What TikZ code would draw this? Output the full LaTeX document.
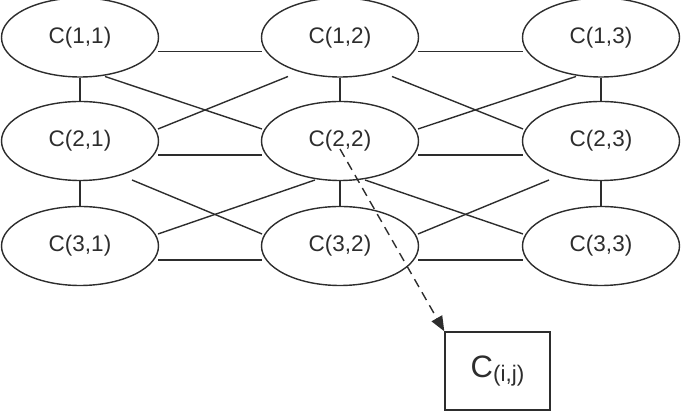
\documentclass[tikz,border=0pt]{standalone}
\usepackage{fontspec}
\setmainfont{Liberation Sans}
\usepackage{tikz}
\usetikzlibrary{arrows.meta,shapes.geometric,calc}
\definecolor{ink}{RGB}{45,45,45}

\begin{document}
\begin{tikzpicture}
[x=1pt,y=1pt,
every node/.style={text=ink},
cell/.style={ellipse,draw=ink,line width=1.4pt,inner sep=0pt,
  minimum width=157pt,minimum height=79pt,font=\fontsize{22.5}{25}\selectfont},
link/.style={draw=ink,line width=1.4pt}]
\useasboundingbox (0,0) rectangle (686,411);
% the grid of cells
\node[cell] (c11) at (80,373.5) {C(1,1)};
\node[cell] (c12) at (340,373.5) {C(1,2)};
\node[cell] (c13) at (601,373.5) {C(1,3)};
\node[cell] (c21) at (80,270) {C(2,1)};
\node[cell] (c22) at (340,270) {C(2,2)};
\node[cell] (c23) at (601,270) {C(2,3)};
\node[cell] (c31) at (80,165) {C(3,1)};
\node[cell] (c32) at (340,165) {C(3,2)};
\node[cell] (c33) at (601,165) {C(3,3)};
% rows and columns
\foreach \a/\b in {c11/c12,c12/c13,c21/c22,c22/c23,c31/c32,c32/c33}
  \draw[link] ($(\a.center)+(78,-14)$) -- ($(\b.center)+(-78,-14)$);
\foreach \a/\b in {c11/c21,c21/c31,c12/c22,c22/c32,c13/c23,c23/c33}
  \draw[link] (\a.south) -- (\b.north);
% diagonals
\foreach \a/\b/\dx/\ex in {c11/c22/25/-78,c12/c23/52/-78,c21/c32/52/-78,c22/c33/25/-78,
  c12/c21/-52/78,c13/c22/-25/78,c22/c31/-25/78,c23/c32/-52/78}
  \draw[link] ($(\a.center)+(\dx,-39)$) -- ($(\b.center)+(\ex,12)$);
% one cell in detail
\node[draw=ink,line width=1.4pt,minimum width=105pt,minimum height=78pt] (cij) at (497.5,40)
  {\fontsize{31}{31}\selectfont C\raisebox{-4pt}{\fontsize{22.5}{25}\selectfont (i,j)}};
\coordinate (start) at ($(c22.center)+(0,-8)$);
\draw[draw=ink,line width=1.4pt,dash pattern=on 9pt off 6pt,
  -{Triangle[length=15pt,width=12pt,fill=ink]}] (start) -- (cij.north west);
\end{tikzpicture}
\end{document}
